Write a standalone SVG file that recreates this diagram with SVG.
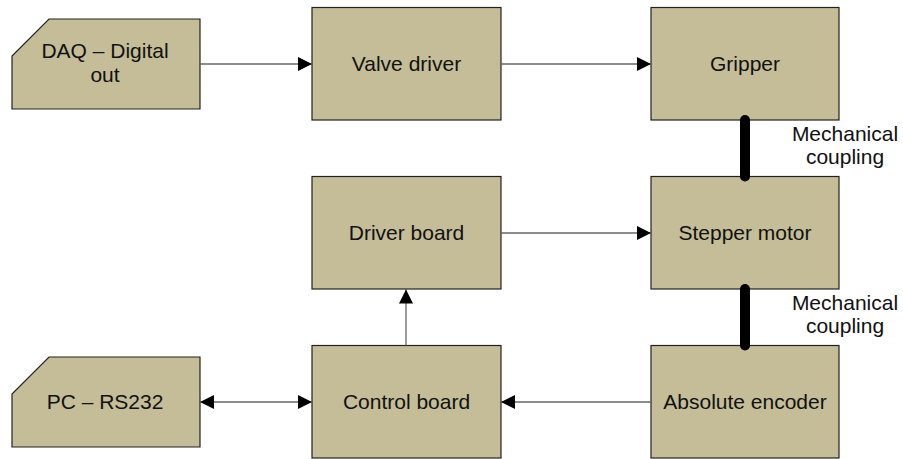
<svg xmlns="http://www.w3.org/2000/svg" width="903" height="459" viewBox="0 0 903 459">
<style>
.box{fill:#c4bd97;stroke:#222;stroke-width:1.2}
.t{font-family:"Liberation Sans",Arial,sans-serif;font-size:21px;fill:#111;text-anchor:middle}
.c{fill:none;stroke:#666;stroke-width:1.3}
.mech{fill:none;stroke:#000;stroke-width:10;stroke-linecap:round}
</style>
<defs>
<marker id="ah" markerUnits="userSpaceOnUse" markerWidth="16" markerHeight="16" refX="14" refY="7" orient="auto">
<path d="M0,0 L14,7 L0,14 Z" fill="#000"/>
</marker>
<marker id="ahs" markerUnits="userSpaceOnUse" markerWidth="16" markerHeight="16" refX="14" refY="7" orient="auto-start-reverse">
<path d="M0,0 L14,7 L0,14 Z" fill="#000"/>
</marker>
</defs>
<g id="daq">
<path class="box" d="M49,19 L200,19 L200,109 L12,109 L12,56 Z"/>
<text class="t" x="105" y="58">DAQ – Digital</text>
<text class="t" x="105" y="82">out</text>
</g>
<g id="valve-driver">
<rect class="box" x="312" y="7.5" width="189" height="112.5"/>
<text class="t" x="406.5" y="71">Valve driver</text>
</g>
<g id="gripper">
<rect class="box" x="651" y="7.5" width="188" height="112.5"/>
<text class="t" x="745" y="71">Gripper</text>
</g>
<g id="driver-board">
<rect class="box" x="312" y="176.5" width="189" height="112.5"/>
<text class="t" x="406.5" y="240">Driver board</text>
</g>
<g id="stepper-motor">
<rect class="box" x="651" y="176.5" width="188" height="112.5"/>
<text class="t" x="745" y="240">Stepper motor</text>
</g>
<g id="pc-rs232">
<path class="box" d="M49,357 L200,357 L200,447 L12,447 L12,394 Z"/>
<text class="t" x="105" y="409">PC – RS232</text>
</g>
<g id="control-board">
<rect class="box" x="312" y="345.5" width="189" height="112.5"/>
<text class="t" x="406.5" y="409">Control board</text>
</g>
<g id="absolute-encoder">
<rect class="box" x="651" y="345.5" width="188" height="112.5"/>
<text class="t" x="745" y="409">Absolute encoder</text>
</g>
<g id="connectors">
<line class="c" x1="200" y1="64" x2="312" y2="64" marker-end="url(#ah)"/>
<line class="c" x1="501" y1="64" x2="651" y2="64" marker-end="url(#ah)"/>
<line class="c" x1="501" y1="233" x2="651" y2="233" marker-end="url(#ah)"/>
<line class="c" x1="406" y1="345.5" x2="406" y2="289.5" marker-end="url(#ah)"/>
<line class="c" x1="651" y1="402" x2="501" y2="402" marker-end="url(#ah)"/>
<line class="c" x1="200" y1="402" x2="312" y2="402" marker-start="url(#ahs)" marker-end="url(#ahs)"/>
<line class="mech" x1="745" y1="120" x2="745" y2="176.5"/>
<line class="mech" x1="745" y1="289" x2="745" y2="345.5"/>
<text class="t" x="845" y="141">Mechanical</text>
<text class="t" x="845" y="164">coupling</text>
<text class="t" x="845" y="310">Mechanical</text>
<text class="t" x="845" y="333">coupling</text>
</g>
</svg>
